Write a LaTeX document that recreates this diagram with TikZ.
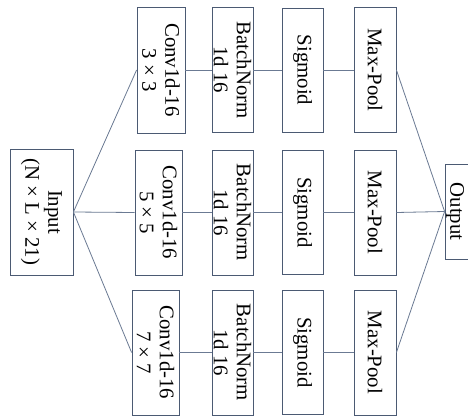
\documentclass[tikz,border=0pt]{standalone}
\usepackage{fontspec}
\setmainfont{Liberation Serif}
\definecolor{edgecol}{HTML}{4B5A73}
\definecolor{wirecol}{HTML}{6B7A93}
\tikzset{
  blk/.style={draw=edgecol, line width=0.8pt, fill=white, inner sep=0pt},
  lbl/.style={rotate=-90, align=center, inner sep=0pt,
    font=\fontsize{20.8}{23}\selectfont},
  wire/.style={draw=wirecol, line width=0.8pt}
}
\begin{document}
\begin{tikzpicture}[x=1pt,y=1pt]
  \clip (0,0) rectangle (468,416);
  \fill[white] (0,0) rectangle (468,416);

  % input block
  \node[blk, minimum width=63pt, minimum height=126pt] (in) at (41.5,204) {};
  \node[lbl] (inT) at (in.center) {Input\\(N × L × 21)};

  % three branches: conv, batchnorm, sigmoid, max-pool
  \node[blk, minimum width=48pt, minimum height=126pt] (c1) at (161,346) {};
  \node[blk, minimum width=47pt, minimum height=125pt] (c2) at (158.5,203.5) {};
  \node[blk, minimum width=47pt, minimum height=125pt] (c3) at (155.5,63.5) {};
  \node[lbl] (c1T) at (c1.center) {Conv1d-16\\3 × 3};
  \node[lbl] (c2T) at (c2.center) {Conv1d-16\\5 × 5};
  \node[lbl] (c3T) at (c3.center) {Conv1d-16\\7 × 7};

  \foreach \r/\y in {1/346,2/203.5,3/63.5}{
    \node[blk, minimum width=41pt, minimum height=125pt] (b\r) at (232.5,\y) {};
    \node[lbl] (b\r T) at (b\r.center) {BatchNorm\\1d 16};
    \node[blk, minimum width=41pt, minimum height=124pt] (s\r) at (302.5,\y) {};
    \node[lbl] (s\r T) at (s\r.center) {Sigmoid};
    \node[blk, minimum width=42pt, minimum height=125pt] (m\r) at (375,\y) {};
    \node[lbl] (m\r T) at (m\r.center) {Max-Pool};
  }

  % output block
  \node[blk, minimum width=24pt, minimum height=95pt] (out) at (457,204.5) {};
  \node[lbl] (outT) at (455,204.5) {Output};

  % connections
  \foreach \r in {1,2,3}{
    \draw[wire] (in.east) -- (c\r.west);
    \draw[wire] (c\r.east) -- (b\r.west);
    \draw[wire] (b\r.east) -- (s\r.west);
    \draw[wire] (s\r.east) -- (m\r.west);
    \draw[wire] (m\r.east) -- (out.west);
  }
\end{tikzpicture}
\end{document}
